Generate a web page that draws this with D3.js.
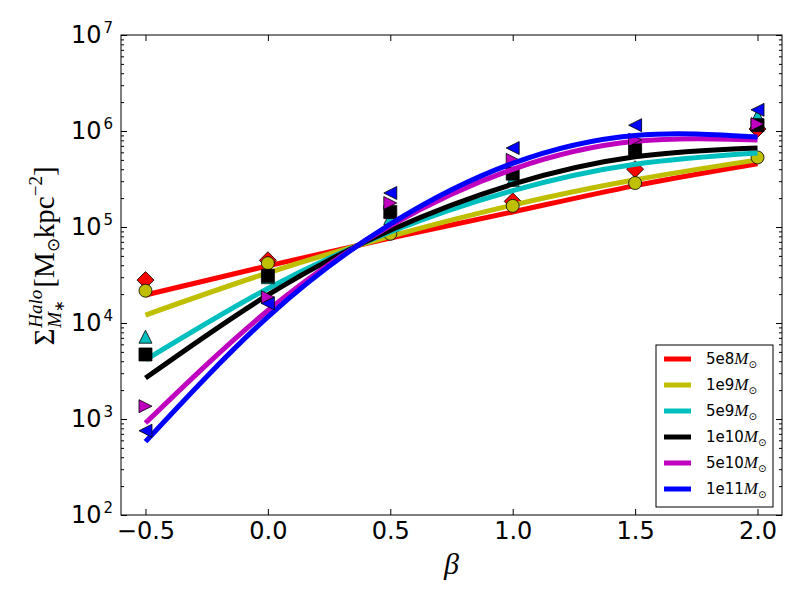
<!DOCTYPE html>
<html>
<head>
<meta charset="utf-8">
<script src="https://cdn.jsdelivr.net/npm/d3@7"></script>
<style>
  body { margin: 0; background: #fff; }
  svg { display: block; }
  .tick text { font-family: "DejaVu Sans", sans-serif; font-size: 24px; fill: #000; }
  .tick line { stroke: #000; stroke-width: 1; }
  .domain { display: none; }
</style>
</head>
<body>
<div class="chart"></div>
<script>
// beta values where the data was sampled
const betas = [-0.5, 0.0, 0.5, 1.0, 1.5, 2.0];

const seriesNames = ["5e8", "1e9", "5e9", "1e10", "5e10", "1e11"];
const seriesColors = ["#ff0000", "#bfbf00", "#00bfbf", "#000000", "#bf00bf", "#0000ff"];
const seriesMarkers = ["diamond", "circle", "triUp", "square", "triRight", "triLeft"];

// measured points (markers)
const pts5e8  = [2.8e4, 4.5e4, 9.0e4, 1.85e5, 4.0e5, 1.05e6];
const pts1e9  = [2.17e4, 4.2e4, 8.5e4, 1.66e5, 2.87e5, 5.3e5];
const pts5e9  = [7.2e3, 3.0e4, 1.24e5, 3.1e5, 7.5e5, 1.43e6];
const pts1e10 = [4.7e3, 3.1e4, 1.43e5, 3.6e5, 6.5e5, 1.15e6];
const pts5e10 = [1.36e3, 1.86e4, 1.78e5, 5.0e5, 8.1e5, 1.18e6];
const pts1e11 = [755, 1.6e4, 2.26e5, 6.65e5, 1.15e6, 1.66e6];

// fitted curves at the same betas
const fit5e8  = [1.96e4, 3.94e4, 7.66e4, 1.435e5, 2.7e5, 4.57e5];
const fit1e9  = [1.21e4, 3.33e4, 8.0e4, 1.69e5, 3.1e5, 5.0e5];
const fit5e9  = [4.12e3, 2.29e4, 8.87e4, 2.39e5, 4.5e5, 5.9e5];
const fit1e10 = [2.67e3, 1.96e4, 9.25e4, 2.79e5, 5.38e5, 6.65e5];
const fit5e10 = [908, 1.35e4, 1.03e5, 3.99e5, 7.8e5, 8.05e5];
const fit1e11 = [581, 1.16e4, 1.07e5, 4.61e5, 9.0e5, 8.66e5];

const allPts = [pts5e8, pts1e9, pts5e9, pts1e10, pts5e10, pts1e11];
const allFits = [fit5e8, fit1e9, fit5e9, fit1e10, fit5e10, fit1e11];

const xTicks = [-0.5, 0.0, 0.5, 1.0, 1.5, 2.0];
const yTicks = [1e2, 1e3, 1e4, 1e5, 1e6, 1e7];

const width = 800, height = 600;
const pLeft = 121, pRight = 782, pTop = 35, pBottom = 515;

const svg = d3.select(".chart").append("svg")
    .attr("width", width)
    .attr("height", height);

svg.append("rect").attr("width", width).attr("height", height).attr("fill", "#fff");

const x = d3.scaleLinear().domain([-0.6, 2.1]).range([pLeft, pRight]);
const y = d3.scaleLog().domain([1e2, 1e7]).range([pBottom, pTop]);

// minor ticks for log axis
let minorTicks = [];
for (let e = 2; e < 7; e++) {
    for (let m = 2; m < 10; m++) minorTicks.push(m * Math.pow(10, e));
}

// axes, ticks pointing inward
svg.append("g")
    .attr("transform", `translate(0,${pBottom})`)
    .call(d3.axisBottom(x).tickValues(xTicks).tickSize(-6).tickPadding(7).tickFormat(d3.format(".1f")));
svg.append("g")
    .attr("transform", `translate(0,${pTop})`)
    .call(d3.axisTop(x).tickValues(xTicks).tickSize(-6).tickFormat(""));

const yAxis = svg.append("g")
    .attr("transform", `translate(${pLeft},0)`)
    .call(d3.axisLeft(y).tickValues(yTicks).tickSize(-6).tickPadding(8).tickFormat(""));
yAxis.selectAll(".tick text").each(function(d) {
    const t = d3.select(this).attr("dy", "0.33em");
    t.append("tspan").text("10");
    t.append("tspan").attr("dx", 2).attr("dy", -10).style("font-size", "15px").text(Math.round(Math.log10(d)));
});
svg.append("g")
    .attr("transform", `translate(${pLeft},0)`)
    .call(d3.axisLeft(y).tickValues(minorTicks).tickSize(-3).tickFormat(""));
svg.append("g")
    .attr("transform", `translate(${pRight},0)`)
    .call(d3.axisRight(y).tickValues(yTicks).tickSize(-6).tickFormat(""));
svg.append("g")
    .attr("transform", `translate(${pRight},0)`)
    .call(d3.axisRight(y).tickValues(minorTicks).tickSize(-3).tickFormat(""));

// marker shapes
function markerPath(kind) {
    const s = 6.5;
    switch (kind) {
        case "diamond": return "M0,-8.5L8.5,0L0,8.5L-8.5,0Z";
        case "square": return `M${-s},${-s}H${s}V${s}H${-s}Z`;
        case "triUp": return `M0,${-s}L${s},${s}L${-s},${s}Z`;
        case "triRight": return `M${s},0L${-s},${-s}L${-s},${s}Z`;
        case "triLeft": return `M${-s},0L${s},${-s}L${s},${s}Z`;
        default: return d3.symbol(d3.symbolCircle, Math.PI * 6.5 * 6.5)();
    }
}

const line = d3.line()
    .x(d => x(d[0]))
    .y(d => y(d[1]))
    .curve(d3.curveNatural);

const plot = svg.append("g").classed("plot", true);
seriesNames.forEach((name, i) => {
    plot.append("path")
        .datum(betas.map((b, j) => [b, allFits[i][j]]))
        .attr("d", line)
        .attr("fill", "none")
        .attr("stroke", seriesColors[i])
        .attr("stroke-width", 5);

    plot.append("g")
        .selectAll("path")
        .data(betas.map((b, j) => [b, allPts[i][j]]))
        .join("path")
        .attr("transform", d => `translate(${x(d[0])},${y(d[1])})`)
        .attr("d", markerPath(seriesMarkers[i]))
        .attr("fill", seriesColors[i])
        .attr("stroke", "#000")
        .attr("stroke-width", 0.8);
});

// frame
svg.append("rect")
    .attr("x", pLeft).attr("y", pTop)
    .attr("width", pRight - pLeft).attr("height", pBottom - pTop)
    .attr("fill", "none").attr("stroke", "#000").attr("stroke-width", 1);

// x label
svg.append("text")
    .attr("x", (pLeft + pRight) / 2).attr("y", 574)
    .attr("text-anchor", "middle")
    .style("font-family", "Liberation Serif, serif")
    .style("font-style", "italic")
    .style("font-size", "30px")
    .text("β");

// y label, built piece by piece
const yl = svg.append("g").attr("transform", "translate(54,256) rotate(-90)");
const inner = yl.append("g");
const serif = "Liberation Serif, serif";
let cx = 0;
function piece(txt, size, dy, italic, advance) {
    const t = inner.append("text")
        .attr("x", cx).attr("y", dy)
        .style("font-family", serif)
        .style("font-size", size + "px")
        .style("font-style", italic ? "italic" : "normal")
        .text(txt);
    const w = t.node().getComputedTextLength();
    if (advance) cx += w;
    return w;
}
piece("Σ", 29, 0, false, true);
cx += 1;
const wHalo = piece("Halo", 19, -12, true, false);
const wM = piece("M", 19, 7, true, false);
const saved = cx;
cx += wM;
const wStar = piece("∗", 14, 10, false, false);
cx = saved + Math.max(wHalo, wM + wStar) + 2;
piece("[", 29, 0, false, true);
piece("M", 29, 0, false, true);
piece("⊙", 17, 5, false, true);
piece("kpc", 29, 0, false, true);
piece("−2", 19, -12, false, true);
piece("]", 29, 0, false, true);
inner.attr("transform", `translate(${-cx / 2},0)`);

// legend
const legend = svg.append("g").classed("legend", true);
legend.append("rect")
    .attr("x", 656).attr("y", 345).attr("width", 117).attr("height", 162)
    .attr("fill", "#fff").attr("stroke", "#000").attr("stroke-width", 1);
seriesNames.forEach((name, i) => {
    const ly = 359 + i * 26;
    legend.append("line")
        .attr("x1", 664).attr("x2", 691).attr("y1", ly).attr("y2", ly)
        .attr("stroke", seriesColors[i]).attr("stroke-width", 5);
    const t = legend.append("text")
        .attr("x", 706).attr("y", ly + 5)
        .style("font-family", "DejaVu Sans, sans-serif")
        .style("font-size", "15px");
    t.append("tspan").text(name);
    t.append("tspan").style("font-family", serif).style("font-style", "italic").style("font-size", "17px").text("M");
    t.append("tspan").attr("dy", 4).style("font-size", "10px").text("⊙");
});
</script>
</body>
</html>
